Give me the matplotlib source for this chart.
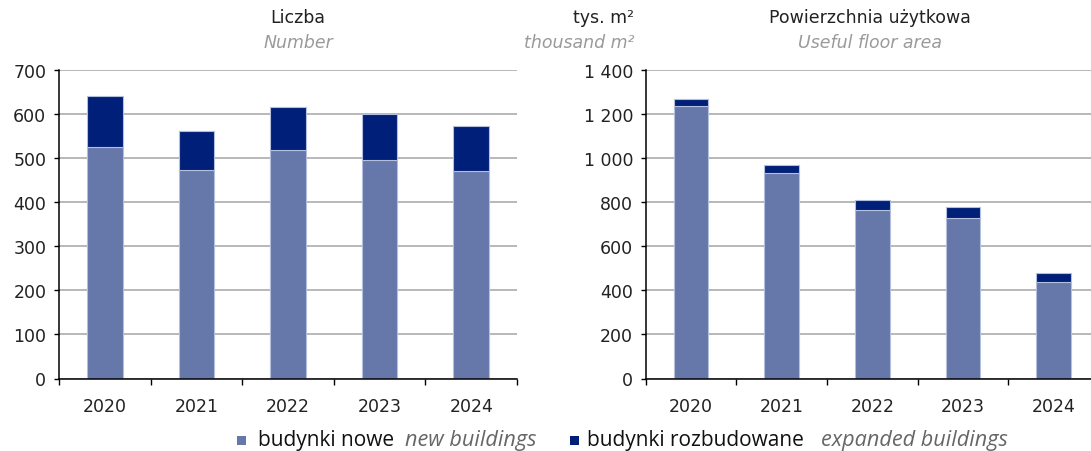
import matplotlib
matplotlib.use("Agg")
import numpy as np
import matplotlib.pyplot as plt
from matplotlib.patches import Rectangle
from matplotlib.ticker import FuncFormatter, FixedLocator

# === Dane ===
lata = ["2020", "2021", "2022", "2023", "2024"]
liczba_nowe = [526, 473, 518, 495, 471]
liczba_rozbud = [116, 88, 99, 106, 102]
pow_nowe = [1235, 931, 764, 730, 436]
pow_rozbud = [33, 38, 45, 50, 44]

# === Styl ===
plt.rcParams['font.family'] = ['DejaVu Sans']
KOLOR_NOWE = "#6677AA"
KOLOR_ROZB = "#001F78"
KOLOR_KRAWEDZ = "#B4BEDD"
SZARY = "#9A9A9A"
TEKST = "#222222"
FS = 12.5
W, H = 1091, 452


def px(x0, y0, x1, y1):
    # prostokat w pikselach (od gory) -> wspolrzedne figury
    return [x0 / W, 1 - y1 / H, (x1 - x0) / W, (y1 - y0) / H]


fig = plt.figure(figsize=(W / 100, H / 100), dpi=100)


def wykres(ax, nowe, rozb, ymax, krok, szer, fmt):
    x = np.arange(len(lata))
    ax.bar(x, nowe, width=szer, color=KOLOR_NOWE, edgecolor=KOLOR_KRAWEDZ, linewidth=0.8, zorder=3)
    ax.bar(x, rozb, bottom=nowe, width=szer, color=KOLOR_ROZB, edgecolor=KOLOR_KRAWEDZ, linewidth=0.8, zorder=3)
    ax.set_xlim(-0.5, len(lata) - 0.5)
    ax.set_ylim(0, ymax)
    ax.set_yticks(np.arange(0, ymax + 1, krok))
    ax.yaxis.set_major_formatter(FuncFormatter(fmt))
    ax.set_xticks(x)
    ax.set_xticklabels(lata)
    ax.xaxis.set_minor_locator(FixedLocator(np.arange(-0.5, len(lata), 1.0)))
    ax.tick_params(axis='x', which='major', length=0, pad=13, labelsize=FS, labelcolor=TEKST)
    ax.tick_params(axis='x', which='minor', length=4.3, width=1.0, direction='out')
    ax.tick_params(axis='y', length=3.6, width=1.0, pad=5.5, labelsize=FS, labelcolor=TEKST)
    ax.grid(axis='y', color="#ABABAB", linewidth=1.2, zorder=0)
    ax.set_axisbelow(True)
    for s in ['top', 'right']:
        ax.spines[s].set_visible(False)
    for s in ['left', 'bottom']:
        ax.spines[s].set_linewidth(1.1)
        ax.spines[s].set_zorder(4)


ax1 = fig.add_axes(px(59, 71, 517, 379.5))
wykres(ax1, liczba_nowe, liczba_rozbud, 700, 100, 0.39, lambda v, p: f"{int(v)}")

ax2 = fig.add_axes(px(645.7, 71, 1099, 379.5))
wykres(ax2, pow_nowe, pow_rozbud, 1400, 200, 0.385,
       lambda v, p: f"{int(v):,}".replace(",", " "))

# === Tytuly ===
fig.text(298 / W, 1 - 18 / H, "Liczba", ha='center', va='center', fontsize=FS, color=TEKST)
fig.text(298 / W, 1 - 43 / H, "Number", ha='center', va='center', fontsize=FS, color=SZARY, style='italic')
fig.text(870 / W, 1 - 18 / H, "Powierzchnia użytkowa", ha='center', va='center', fontsize=FS, color=TEKST)
fig.text(870 / W, 1 - 43 / H, "Useful floor area", ha='center', va='center', fontsize=FS, color=SZARY, style='italic')
fig.text(634 / W, 1 - 18 / H, "tys. m²", ha='right', va='center', fontsize=FS, color=TEKST)
fig.text(634 / W, 1 - 43 / H, "thousand m²", ha='right', va='center', fontsize=FS, color=SZARY, style='italic')

# === Legenda (skladana z tekstow) ===
rodzina = ['Open Sans', 'DejaVu Sans']
y_leg = 441
fig.patches.append(Rectangle((237 / W, 1 - 446 / H), 9 / W, 9 / H, transform=fig.transFigure,
                             facecolor=KOLOR_NOWE, edgecolor='none'))
fig.patches.append(Rectangle((570 / W, 1 - 446 / H), 9 / W, 9 / H, transform=fig.transFigure,
                             facecolor=KOLOR_ROZB, edgecolor='none'))
for x0, tekst, kolor, styl, fs in [(258, "budynki nowe", "#111111", 'normal', 15),
                                   (405, "new buildings", "#666666", 'italic', 15.6),
                                   (587, "budynki rozbudowane", "#111111", 'normal', 15),
                                   (821, "expanded buildings", "#666666", 'italic', 15.6)]:
    fig.text(x0 / W, 1 - y_leg / H, tekst, ha='left', va='center', fontsize=fs,
             color=kolor, style=styl, family=rodzina)

fig.savefig("out.png", dpi=100)
